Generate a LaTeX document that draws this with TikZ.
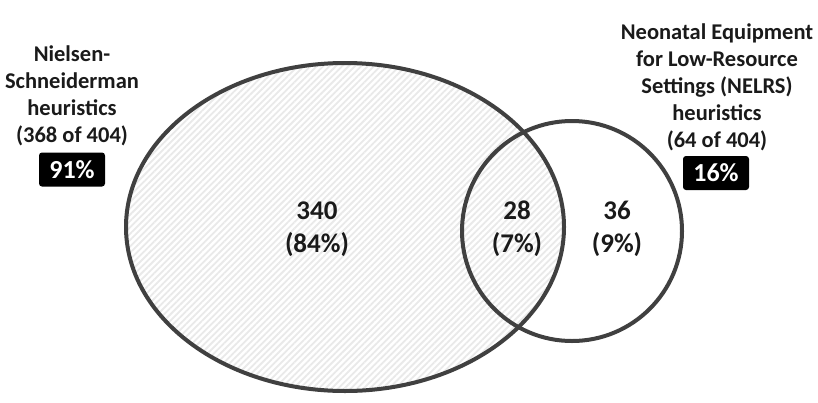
\documentclass[tikz,border=0pt]{standalone}
\usepackage{fontspec}
\setmainfont{Carlito}
\usetikzlibrary{patterns.meta}
\definecolor{edge}{HTML}{404040}
\definecolor{txt}{HTML}{1A1A1A}
\begin{document}
\begin{tikzpicture}[x=1pt,y=-1pt,
  lbl/.style={font=\fontsize{22.5}{27}\selectfont\bfseries, text=txt, align=center, inner sep=0pt},
  num/.style={font=\fontsize{27}{33}\selectfont\bfseries, text=txt, align=center, inner sep=0pt},
  pct/.style={font=\fontsize{26}{28}\selectfont\bfseries, text=white, fill=black, rounded corners=3pt, minimum width=66pt, minimum height=34pt, inner sep=0pt},
  setline/.style={draw=edge, line width=4pt}]
\useasboundingbox (0,0) rectangle (818,402);
% large ellipse
\fill[white] (345,227) ellipse [x radius=219, y radius=164];
\fill[pattern={Lines[angle=45,distance=4.5pt,line width=1.8pt]}, pattern color=gray!17] (345,227) ellipse [x radius=219, y radius=164];
\draw[setline] (345,227) ellipse [x radius=219, y radius=164];
% circle
\draw[setline] (572,231) circle [radius=110];
% labels
\node[lbl] (ns) at (72,96) {Nielsen-\\Schneiderman\\heuristics\\(368 of 404)};
\node[pct] (nsp) at (72,169.5) {91\%};
\node[lbl] (ne) at (717,87) {Neonatal Equipment\\for Low-Resource\\Settings (NELRS)\\heuristics\\(64 of 404)};
\node[pct] (nep) at (716,173) {16\%};
\node[num] (a) at (317,229) {340\\(84\%)};
\node[num] (b) at (517,229) {28\\(7\%)};
\node[num] (c) at (617,229) {36\\(9\%)};
\end{tikzpicture}
\end{document}
